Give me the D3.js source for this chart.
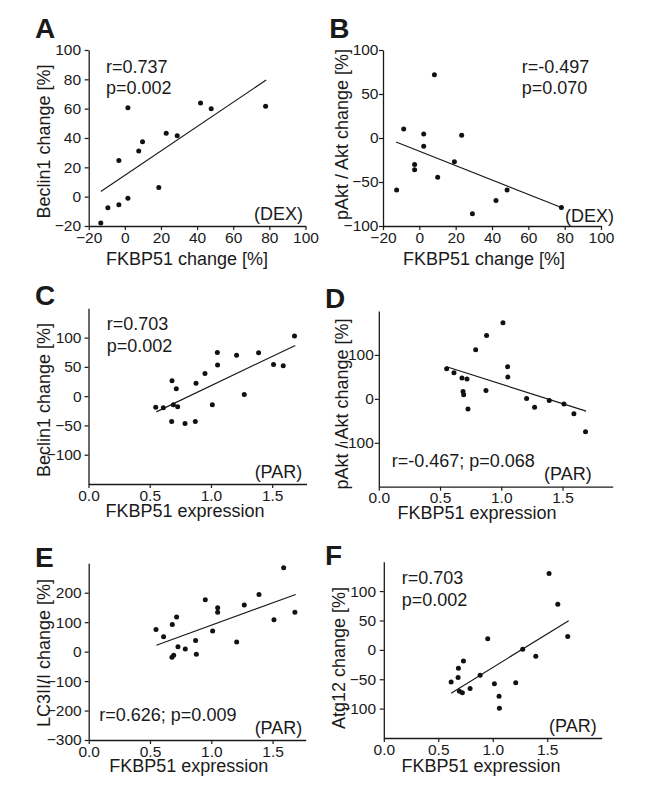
<!DOCTYPE html>
<html><head><meta charset="utf-8">
<script src="https://cdn.jsdelivr.net/npm/d3@7"></script>
<style>
body{margin:0;background:#fff}
svg{display:block}
text{font-family:"Liberation Sans",Arial,sans-serif;fill:#1a1a1a}
</style>
</head><body>
<svg id="chart" width="653" height="787"></svg>
<script>
// ---------- DATA ----------
// Panel A: Beclin1 vs FKBP51 change (DEX)
const xA = [-13.3, -9.4, -3.3, -3.3, 1.7, 1.7, 7.7, 9.8, 18.8, 22.9, 29.0, 41.9, 47.8, 77.9];
const yA = [-18, -7.5, -5.5, 24.6, -1.1, 60.6, 31.2, 37.4, 6.2, 43.3, 41.5, 63.8, 59.9, 61.7];
const fitXA = [-13.3, 78.2];
const fitYA = [3.6, 79.5];

// Panel B: pAkt/Akt vs FKBP51 change (DEX)
const xB = [-12.5, -8.6, -2.6, -2.6, 2.4, 2.4, 8.3, 10.1, 19.3, 23.3, 29.2, 42.2, 48.3, 78.2];
const yB = [-59, 10.2, -30, -36, 4.5, -9.5, 72, -44.7, -27, 3, -86, -71, -59, -79];
const fitXB = [-12.8, 78.2];
const fitYB = [-4.5, -79];

// Panel C: Beclin1 vs FKBP51 expression (PAR)
const xC = [0.549, 0.611, 0.682, 0.679, 0.693, 0.717, 0.728, 0.788, 0.878, 0.872, 0.951, 1.011, 1.052, 1.054, 1.209, 1.272, 1.389, 1.511, 1.590, 1.682];
const yC = [-18.8, -20, 26.2, -43.3, -14.8, 12.5, -18.2, -46.7, 22.2, -43.3, 38.7, -14.8, 74.6, 53, 70, 2.8, 74, 54, 51.9, 102.6];
const fitXC = [0.554, 1.688];
const fitYC = [-26.8, 86.6];

// Panel D: pAkt/Akt vs FKBP51 expression (PAR)
const xD = [0.554, 0.614, 0.679, 0.720, 0.688, 0.693, 0.728, 0.791, 0.880, 0.875, 1.014, 1.052, 1.054, 1.207, 1.272, 1.392, 1.512, 1.593, 1.688];
const yD = [68.7, 59.5, 47.3, 45, 16.8, 9.2, -22.9, 112, 144, 19, 173, 73, 50, 0.8, -19, -3.8, -12, -34, -75];
const fitXD = [0.554, 1.693];
const fitYD = [73, -28];

// Panel E: LC3II/I vs FKBP51 expression (PAR)
const xE = [0.549, 0.611, 0.682, 0.679, 0.693, 0.717, 0.728, 0.788, 0.951, 0.872, 0.878, 1.011, 1.052, 1.052, 1.207, 1.269, 1.389, 1.511, 1.590, 1.682];
const yE = [75, 51, 92, -19, -12.5, 118, 17, 9, 176, 37.5, -9, 70, 149, 134, 33, 158, 194, 108, 285, 134];
const fitXE = [0.552, 1.688];
const fitYE = [21.6, 194];

// Panel F: Atg12 vs FKBP51 expression (PAR)
const xF = [0.618, 0.682, 0.685, 0.694, 0.721, 0.731, 0.792, 0.884, 0.954, 1.015, 1.058, 1.061, 1.211, 1.275, 1.395, 1.517, 1.597, 1.688];
const yF = [-54.9, -46.9, -31.4, -70.3, -73, -18.9, -65.7, -43.4, 18.9, -57.7, -78.9, -99.4, -56, 1.1, -10.9, 130, 77.7, 22.9];
const fitXF = [0.618, 1.697];
const fitYF = [-73.7, 49.7];

// tick values
const ticksXChange = [-20, 0, 20, 40, 60, 80, 100];
const ticksXExpr = [0.0, 0.5, 1.0, 1.5];
const ticksYA = [-20, 0, 20, 40, 60, 80, 100];
const ticksYB = [-100, -50, 0, 50, 100];
const ticksYC = [-100, -50, 0, 50, 100];
const ticksYD = [-100, 0, 100];
const ticksYE = [-300, -200, -100, 0, 100, 200];
const ticksYF = [-100, -50, 0, 50, 100];

// ---------- LAYOUT ----------
const FONT = '"Liberation Sans",Arial,sans-serif';
const panels = [
  {id:"A", xs:xA, ys:yA, fx:fitXA, fy:fitYA, xd:[-20,100], yd:[-20,100], xt:ticksXChange, yt:ticksYA, xfmt:d3.format("d"),
   x0:88.7, x1:305.5, yT:50, yB:226, ypad:3.7,
   xlab:"FKBP51 change [%]", xlx:187, xly:265, ylab:"Beclin1 change [%]", ylx:49.5, yly:141.5,
   letter:[35,38.3], notes:[{t:"r=0.737",x:106,y:72.7,a:"start"},{t:"p=0.002",x:106,y:94.3,a:"start"},{t:"(DEX)",x:303,y:220,a:"end"}]},
  {id:"B", xs:xB, ys:yB, fx:fitXB, fy:fitYB, xd:[-20,100], yd:[-100,100], xt:ticksXChange, yt:ticksYB, xfmt:d3.format("d"),
   x0:383, x1:601, yT:50, yB:226, ypad:0.5,
   xlab:"FKBP51 change [%]", xlx:484, xly:265, ylab:"pAkt / Akt change [%]", ylx:348, yly:134.5,
   letter:[329.3,37.5], notes:[{t:"r=-0.497",x:521.7,y:72.5,a:"start"},{t:"p=0.070",x:521.7,y:94.3,a:"start"},{t:"(DEX)",x:614,y:221.5,a:"end"}]},
  {id:"C", xs:xC, ys:yC, fx:fitXC, fy:fitYC, xd:[0,1.78], yd:[-150,150], xt:ticksXExpr, yt:ticksYC, xfmt:d3.format(".1f"),
   x0:88.5, x1:306.5, yT:308.3, yB:484, ypad:3,
   xlab:"FKBP51 expression", xlx:185, xly:516.5, ylab:"Beclin1 change [%]", ylx:49.5, yly:400,
   letter:[35,305], notes:[{t:"r=0.703",x:106.7,y:330,a:"start"},{t:"p=0.002",x:106.7,y:352.3,a:"start"},{t:"(PAR)",x:302.3,y:477.5,a:"end"}]},
  {id:"D", xs:xD, ys:yD, fx:fitXD, fy:fitYD, xd:[0,1.91], yd:[-200,200], xt:ticksXExpr, yt:ticksYD, xfmt:d3.format(".1f"),
   x0:378.8, x1:612.7, yT:311, yB:486.7, ypad:1,
   xlab:"FKBP51 expression", xlx:477, xly:519, ylab:"pAkt / Akt change [%]", ylx:348, yly:404,
   letter:[325,308.3], notes:[{t:"r=-0.467; p=0.068",x:391.7,y:466.7,a:"start"},{t:"(PAR)",x:591.7,y:480,a:"end"}]},
  {id:"E", xs:xE, ys:yE, fx:fitXE, fy:fitYE, xd:[0,1.77], yd:[-300,300], xt:ticksXExpr, yt:ticksYE, xfmt:d3.format(".1f"),
   x0:88.7, x1:305.7, yT:563.3, yB:740, ypad:3,
   xlab:"FKBP51 expression", xlx:188.7, xly:772, ylab:"LC3II/I change [%]", ylx:49.5, yly:653,
   letter:[35,566.5], notes:[{t:"r=0.626; p=0.009",x:99.3,y:721,a:"start"},{t:"(PAR)",x:302.3,y:734,a:"end"}]},
  {id:"F", xs:xF, ys:yF, fx:fitXF, fy:fitYF, xd:[0,2.0], yd:[-150,150], xt:ticksXExpr, yt:ticksYF, xfmt:d3.format(".1f"),
   x0:383.8, x1:601.7, yT:561.7, yB:738, ypad:3.7,
   xlab:"FKBP51 expression", xlx:481, xly:771.5, ylab:"Atg12 change [%]", ylx:344.5, yly:658,
   letter:[325,565], notes:[{t:"r=0.703",x:401.7,y:584,a:"start"},{t:"p=0.002",x:401.7,y:606,a:"start"},{t:"(PAR)",x:596.7,y:731.5,a:"end"}]}
];

const svg = d3.select("#chart");
svg.append("rect").attr("width",653).attr("height",787).attr("fill","#fff");
const ink = "#1a1a1a";

panels.forEach(p => {
  const g = svg.append("g").attr("class","panel-"+p.id);
  const x = d3.scaleLinear().domain(p.xd).range([p.x0, p.x1]);
  const y = d3.scaleLinear().domain(p.yd).range([p.yB, p.yT]);

  const xa = g.append("g").attr("transform",`translate(0,${p.yB})`)
    .call(d3.axisBottom(x).tickValues(p.xt).tickFormat(p.xfmt).tickSize(4).tickSizeOuter(0).tickPadding(1.5));
  const ya = g.append("g").attr("transform",`translate(${p.x0},0)`)
    .call(d3.axisLeft(y).tickValues(p.yt).tickFormat(d3.format("d")).tickSize(4).tickSizeOuter(0).tickPadding(p.ypad));
  [xa, ya].forEach(a => {
    a.attr("font-family", FONT).attr("font-size", 15.5);
    a.selectAll("path.domain").attr("stroke", ink).attr("stroke-width",1.3);
    a.selectAll(".tick line").attr("stroke", ink).attr("stroke-width",1.2);
    a.selectAll(".tick text").attr("fill", ink).style("font-size","15.5px").style("font-family",FONT);
  });

  // regression line
  g.append("line")
    .attr("x1", x(p.fx[0])).attr("y1", y(p.fy[0]))
    .attr("x2", x(p.fx[1])).attr("y2", y(p.fy[1]))
    .attr("stroke", ink).attr("stroke-width", 1.2);

  // points
  g.selectAll("circle.pt").data(p.xs.map((v,i)=>[v,p.ys[i]])).join("circle")
    .attr("class","pt").attr("cx", d=>x(d[0])).attr("cy", d=>y(d[1])).attr("r",2.5).attr("fill","#111");

  const T = (sel) => sel.style("font-family",FONT).style("font-size","18px");
  // axis labels
  T(g.append("text").attr("x",p.xlx).attr("y",p.xly).attr("text-anchor","middle")).text(p.xlab);
  T(g.append("text").attr("transform",`translate(${p.ylx},${p.yly}) rotate(-90)`).attr("text-anchor","middle")).text(p.ylab);

  // notes
  p.notes.forEach(n => {
    T(g.append("text").attr("x",n.x).attr("y",n.y).attr("text-anchor",n.a)).text(n.t);
  });

  // panel letter
  g.append("text").attr("x",p.letter[0]).attr("y",p.letter[1])
    .style("font-family",FONT).style("font-size","28px").style("font-weight","bold").text(p.id);
});
</script>
</body></html>
